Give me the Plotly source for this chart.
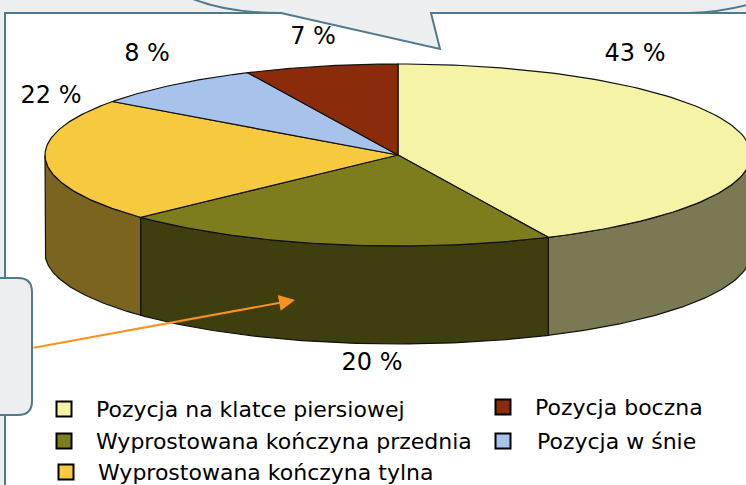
import numpy as np
import plotly.graph_objects as go

# ---------------- data ----------------
categories = [
    "Pozycja na klatce piersiowej",
    "Wyprostowana kończyna przednia",
    "Wyprostowana kończyna tylna",
    "Pozycja w śnie",
    "Pozycja boczna",
]
values = [43, 20, 22, 8, 7]
top_colors = ["#F5F3A6", "#7E7D1E", "#F7C93E", "#A7C3EC", "#8A2B0B"]
value_labels = [f"{v} %" for v in values]

# legend order as in the picture
legend_order = [0, 1, 2, 4, 3]

# ---------------- layout constants ----------------
W, H = 746, 485
CX, CY, RX, RY, DEPTH = 398, 155, 353, 91, 98
LABEL_XY = [(635, 55), (372, 364), (51, 97), (147, 55), (313, 38)]
LEGEND_XY = [(64, 409, 94), (64, 441, 94), (66, 472, 96), (503, 407, 533), (503, 441, 535)]
FRAME = "#4F7A8E"
GREY = "#ECEEF0"


def shade(hexc, f):
    h = hexc.lstrip("#")
    r, g, b = (int(h[i:i + 2], 16) for i in (0, 2, 4))
    return "#%02X%02X%02X" % (int(r * f), int(g * f), int(b * f))


def pt(theta_deg, dy=0.0):
    t = np.radians(theta_deg)
    return CX + RX * np.sin(t), CY - RY * np.cos(t) + dy


fig = go.Figure()

total = float(sum(values))
bounds = []
acc = 0.0
for v in values:
    a1 = acc / total * 360.0
    acc += v
    a2 = acc / total * 360.0
    bounds.append((a1, a2))

# side faces (front half only: 90..270 deg clockwise from top)
for (a1, a2), col in zip(bounds, top_colors):
    s, e = max(a1, 90.0), min(a2, 270.0)
    if e <= s:
        continue
    th = np.linspace(s, e, 80)
    xt, yt = pt(th)
    xb, yb = pt(th[::-1], DEPTH)
    xs = np.concatenate([xt, xb, xt[:1]])
    ys = np.concatenate([yt, yb, yt[:1]])
    fig.add_trace(go.Scatter(x=xs, y=ys, fill="toself", mode="lines",
                             fillcolor=shade(col, 0.5),
                             line=dict(color="#111111", width=1.2),
                             hoverinfo="skip", showlegend=False))

# top faces
for (a1, a2), col in zip(bounds, top_colors):
    th = np.linspace(a1, a2, 120)
    xa, ya = pt(th)
    xs = np.concatenate([[CX], xa, [CX]])
    ys = np.concatenate([[CY], ya, [CY]])
    fig.add_trace(go.Scatter(x=xs, y=ys, fill="toself", mode="lines",
                             fillcolor=col,
                             line=dict(color="#111111", width=1.2),
                             hoverinfo="skip", showlegend=False))

# value labels
fig.add_trace(go.Scatter(x=[p[0] for p in LABEL_XY], y=[p[1] for p in LABEL_XY],
                         mode="text", text=value_labels,
                         textfont=dict(family="DejaVu Sans", size=24, color="#000000"),
                         hoverinfo="skip", showlegend=False))

# legend markers
fig.add_trace(go.Scatter(
    x=[LEGEND_XY[k][0] for k in range(5)],
    y=[LEGEND_XY[k][1] for k in range(5)],
    mode="markers",
    marker=dict(symbol="square", size=15,
                color=[top_colors[i] for i in legend_order],
                line=dict(color="#000000", width=2)),
    hoverinfo="skip", showlegend=False))

annotations = []
for k, i in enumerate(legend_order):
    mx, my, tx = LEGEND_XY[k]
    annotations.append(dict(x=tx, y=my, xref="x", yref="y", text=categories[i],
                            showarrow=False, xanchor="left", yanchor="middle",
                            font=dict(family="DejaVu Sans", size=22, color="#000000")))

# orange arrow from left callout box
annotations.append(dict(x=295, y=300, ax=32, ay=348, xref="x", yref="y",
                        axref="x", ayref="y", text="", showarrow=True,
                        arrowhead=2, arrowsize=1.6, arrowwidth=2,
                        arrowcolor="#F7931E"))

shapes = [
    # grey page background
    dict(type="rect", x0=-20, y0=-20, x1=W + 20, y1=H + 20, fillcolor=GREY,
         line=dict(width=0), layer="below"),
    # white frame
    dict(type="rect", x0=5, y0=13, x1=W + 20, y1=H + 20, fillcolor="#FFFFFF",
         line=dict(color=FRAME, width=2), layer="below"),
    # top speech bubble
    dict(type="path",
         path="M 160,-20 Q 200,13 281,13 L 440,49 L 431,13 L 690,13 Q 730,12 770,-2 L 770,-20 Z",
         fillcolor=GREY, line=dict(color=FRAME, width=2), layer="below"),
    # left callout box
    dict(type="path",
         path="M -20,278 L 18,278 Q 32,278 32,292 L 32,401 Q 32,415 18,415 L -20,415 Z",
         fillcolor=GREY, line=dict(color=FRAME, width=2), layer="below"),
]

fig.update_layout(
    width=W, height=H,
    margin=dict(l=0, r=0, t=0, b=0),
    paper_bgcolor="#FFFFFF", plot_bgcolor="#FFFFFF",
    xaxis=dict(range=[0, W], visible=False, fixedrange=True),
    yaxis=dict(range=[H, 0], visible=False, fixedrange=True),
    shapes=shapes, annotations=annotations,
    showlegend=False,
)

fig.write_html(
    "out.html",
    config={"displayModeBar": False},
    post_script="document.body.style.margin='0';document.body.style.padding='0';"
                "document.body.style.overflow='hidden';",
)
